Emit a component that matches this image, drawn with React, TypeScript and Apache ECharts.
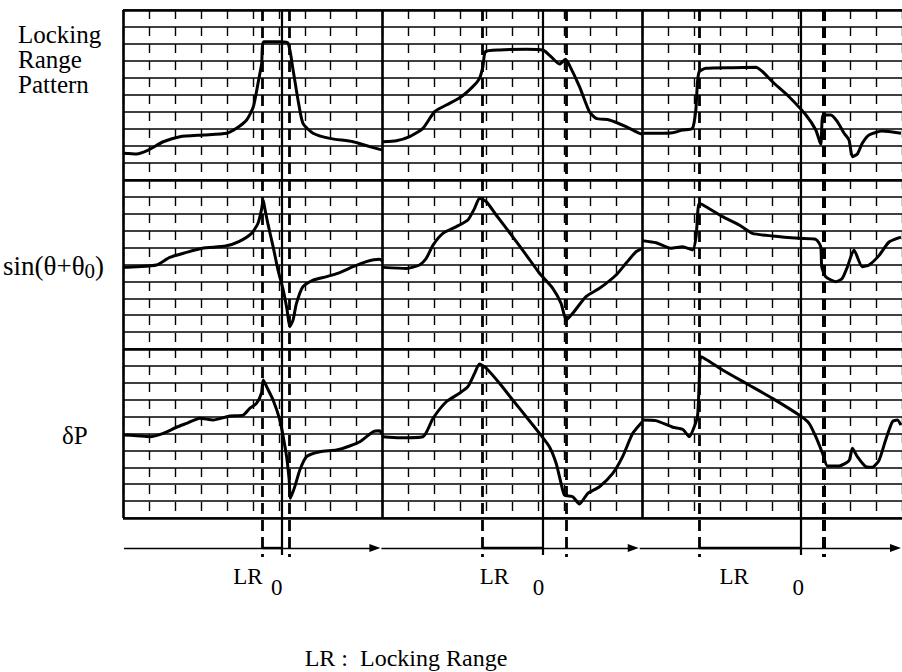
import React, { useEffect, useRef } from 'react';
import * as echarts from 'echarts';

// ---- data: [sweep position (grid columns), level (grid rows)] ----
const lockSec1 = [[0.01,1.57],[0.52,1.53],[0.97,1.76],[1.55,2.25],[2.19,2.55],[3.09,2.65],[3.99,2.75],[4.37,3.04],[4.76,3.53],[5.02,4.31],[5.2,5.69],[5.34,6.86],[5.42,8.13],[6.04,8.13],[6.36,8.04],[6.55,6.47],[6.74,4.71],[6.93,3.33],[7.32,2.75],[7.96,2.45],[8.86,2.25],[9.5,1.96],[10.0,1.76]];
const lockSec2 = [[10.01,2.25],[10.53,2.31],[11.04,2.55],[11.55,3.04],[12.0,4.02],[12.45,4.41],[13.03,4.9],[13.47,5.49],[13.73,5.98],[13.86,6.67],[13.96,7.55],[14.5,7.65],[15.53,7.69],[16.17,7.65],[16.42,7.35],[16.81,6.82],[17.04,7.1],[17.19,6.76],[17.58,5.49],[17.96,4.02],[18.22,3.63],[18.73,3.53],[19.37,3.14],[19.88,2.75],[20.0,2.7]];
const lockSec3 = [[20.04,2.75],[20.65,2.75],[21.16,2.78],[21.55,2.94],[21.93,3.04],[22.06,4.12],[22.12,5.69],[22.19,6.37],[22.45,6.57],[23.47,6.61],[24.37,6.63],[24.63,6.37],[25.01,5.78],[25.65,4.9],[26.3,3.82],[26.68,2.94],[26.87,2.1],[26.96,3.82],[27.26,3.82],[27.51,3.43],[27.77,2.75],[27.96,2.35],[28.09,1.37],[28.28,1.53],[28.47,2.16],[28.73,2.65],[29.24,2.88],[29.96,2.75]];

const sinSec1 = [[0.01,4.83],[0.52,4.87],[1.29,4.97],[1.8,5.42],[2.41,5.7],[3.05,5.96],[3.95,6.09],[4.46,6.35],[4.95,6.84],[5.2,7.44],[5.33,8.22],[5.4,8.82],[5.46,8.32],[5.59,7.34],[5.78,6.06],[5.97,4.67],[6.17,3.49],[6.32,2.31],[6.42,1.32],[6.55,1.72],[6.68,2.7],[6.93,3.69],[7.32,4.08],[7.84,4.28],[8.35,4.52],[8.86,4.87],[9.37,5.17],[9.88,5.31],[10.0,5.2]];
const sinSec2 = [[10.01,4.83],[10.91,4.77],[11.42,4.97],[11.68,5.37],[11.94,6.15],[12.32,6.84],[12.84,7.24],[13.28,7.63],[13.54,8.32],[13.73,8.92],[13.99,8.72],[14.37,7.93],[15.01,6.64],[15.53,5.56],[16.04,4.48],[16.55,3.59],[16.87,2.7],[17.07,1.72],[17.32,2.11],[17.83,3.1],[18.35,3.59],[18.99,4.38],[19.37,5.07],[19.76,5.76],[20.0,5.96]];
const sinSec3 = [[20.01,6.41],[20.53,6.29],[21.1,5.96],[21.55,6.05],[21.94,5.86],[22.07,6.65],[22.19,8.62],[22.45,8.42],[23.09,7.83],[23.73,7.34],[24.24,6.84],[25.01,6.69],[26.04,6.55],[26.68,6.49],[26.87,6.06],[26.91,4.87],[27.06,4.28],[27.45,3.98],[27.7,4.18],[27.9,4.87],[28.15,5.86],[28.47,4.87],[28.73,4.97],[29.12,5.54],[29.5,6.33],[29.96,6.62]];

const dpSec1 = [[0.01,4.91],[0.52,4.87],[1.04,4.81],[1.55,5.01],[2.06,5.37],[2.45,5.6],[2.96,5.9],[3.47,5.8],[4.12,6.04],[4.63,6.09],[4.88,6.49],[5.14,6.78],[5.33,7.38],[5.4,8.17],[5.53,7.77],[5.78,6.98],[6.04,5.8],[6.17,4.81],[6.3,3.63],[6.4,2.25],[6.45,1.17],[6.62,1.87],[6.81,2.84],[7.07,3.63],[7.58,3.92],[8.22,4.02],[8.73,4.26],[9.12,4.51],[9.63,5.1],[9.88,5.16],[10.0,4.91]];
const dpSec2 = [[10.01,4.81],[10.65,4.75],[11.55,4.81],[11.94,5.9],[12.45,6.88],[12.96,7.38],[13.28,7.77],[13.54,8.56],[13.73,9.11],[13.99,8.86],[14.5,7.97],[15.01,6.98],[15.53,5.99],[16.04,5.01],[16.42,4.22],[16.68,3.24],[16.87,2.05],[17.0,1.36],[17.32,1.26],[17.58,0.83],[17.9,1.46],[18.35,1.85],[18.86,2.64],[19.24,3.63],[19.63,5.01],[20.0,5.7]];
const dpSec3 = [[20.01,5.8],[20.53,5.76],[21.17,5.37],[21.55,5.25],[21.81,4.81],[22.0,5.4],[22.13,6.09],[22.19,7.97],[22.26,9.54],[23.09,8.76],[23.99,7.97],[25.01,7.08],[26.04,6.09],[26.42,5.6],[26.68,4.81],[26.94,3.83],[27.13,3.08],[27.58,3.08],[27.96,3.39],[28.09,4.12],[28.28,3.63],[28.6,3.04],[28.86,3.0],[29.12,3.43],[29.37,4.62],[29.63,5.7],[29.82,5.8],[29.96,5.5]];

// ---- reference positions on the sweep axis (grid columns) ----
const sectionCols = [0, 10, 20];
const zeroCols = [6.1, 16.15, 26.1];
const lrCols = [5.38, 13.85, 22.2];
const edgeCols = [6.42, 17.08, 27.0];
const axisSegments = [[0.04, 9.7], [9.95, 19.65], [19.9, 29.75]];
const lrLabelCols = [4.81, 14.3, 23.54];
const zeroLabelCols = [5.92, 16.0, 26.0];

const panelLabels = ['Locking\nRange\nPattern', 'sin(θ+θ{s|0})', 'δP'];
const captionText = 'LR :  Locking Range';

const FONT = "'Times New Roman', 'Liberation Serif', Times, serif";

export default function App() {
  const ref = useRef<HTMLDivElement>(null);
  useEffect(() => {
    if (!ref.current) return;
    const chart = echarts.init(ref.current, undefined, { renderer: 'svg' });

    const panels = [
      { top: 10, height: 170 },
      { top: 180, height: 169 },
      { top: 349, height: 169 },
    ];
    const grids: any[] = panels.map((p) => ({ left: 123, width: 780, top: p.top, height: p.height }));
    grids.push({ left: 123, width: 780, top: 10, height: 660 });

    const xAxes: any[] = grids.map((_, i) => ({
      type: 'value', gridIndex: i, min: 0, max: 30, interval: 1,
      axisLabel: { show: false }, axisTick: { show: false }, axisLine: { show: false },
      splitLine: i < 3 ? { show: true, lineStyle: { color: '#000', width: 1.4, type: [9, 8] } } : { show: false },
    }));
    const yAxes: any[] = grids.map((_, i) => i < 3 ? ({
      type: 'value', gridIndex: i, min: 0, max: 10, interval: 1,
      axisLabel: { show: false }, axisTick: { show: false }, axisLine: { show: false },
      splitLine: { show: true, lineStyle: { color: '#000', width: 1.7 } },
    }) : ({
      type: 'value', gridIndex: i, min: 0, max: 660, inverse: true,
      axisLabel: { show: false }, axisTick: { show: false }, axisLine: { show: false },
      splitLine: { show: false },
    }));

    const traces = [
      [lockSec1, lockSec2, lockSec3],
      [sinSec1, sinSec2, sinSec3],
      [dpSec1, dpSec2, dpSec3],
    ];
    const series: any[] = [];
    traces.forEach((secs, p) => {
      secs.forEach((d) => {
        series.push({
          type: 'line', xAxisIndex: p, yAxisIndex: p, data: d, showSymbol: false,
          smooth: 0.2, lineStyle: { color: '#000', width: 3 }, silent: true,
        });
      });
    });

    // overlay y offsets (px from top of box)
    const boxBottom = 508;
    const sepYs = [0, 170, 339, boxBottom];
    const axisY = 538;
    const lineEnd = 547;
    const lrLabelY = 566;
    const zeroLabelY = 577;

    const ml: any[] = [];
    const seg = (a: number[], b: number[], style: any, endSymbol?: string) => {
      ml.push([
        { coord: a, lineStyle: style, symbol: 'none' },
        { coord: b, lineStyle: style, symbol: endSymbol || 'none', symbolSize: endSymbol ? [8, 11] : 0 },
      ]);
    };
    sepYs.forEach((y) => seg([0, y], [30, y], { color: '#000', width: 2.6, type: 'solid' }));
    sectionCols.forEach((c) => seg([c, 0], [c, boxBottom], { color: '#000', width: 2.6, type: 'solid' }));
    zeroCols.forEach((c) => seg([c, 0], [c, lineEnd - 2], { color: '#000', width: 2.2, type: 'solid' }));
    lrCols.forEach((c) => seg([c, 0], [c, lineEnd], { color: '#000', width: 2.8, type: [11, 6] }));
    edgeCols.forEach((c, i) => seg([c, 0], [c, lineEnd], { color: '#000', width: i === 2 ? 4 : 2.8, type: [11, 6] }));
    axisSegments.forEach((s) => seg([s[0], axisY], [s[1], axisY], { color: '#000', width: 1.4, type: 'solid' }, 'triangle'));
    lrCols.forEach((c, i) => seg([c, axisY], [zeroCols[i], axisY], { color: '#000', width: 2.4, type: 'solid' }));

    const mp: any[] = [];
    lrLabelCols.forEach((c) => mp.push({ name: 'LR', coord: [c, lrLabelY] }));
    zeroLabelCols.forEach((c) => mp.push({ name: '0', coord: [c, zeroLabelY] }));

    series.push({
      type: 'line', xAxisIndex: 3, yAxisIndex: 3, data: [], silent: true,
      markLine: { silent: true, symbol: 'none', label: { show: false }, data: ml, animation: false },
      markPoint: {
        silent: true, symbol: 'circle', symbolSize: 0, data: mp, animation: false,
        label: { show: true, position: 'inside', formatter: '{b}', color: '#000', fontFamily: FONT, fontSize: 23 },
      },
    });

    chart.setOption({
      animation: false,
      backgroundColor: '#fff',
      grid: grids,
      xAxis: xAxes,
      yAxis: yAxes,
      series,
      graphic: [
        { type: 'text', left: 18, top: 22, style: { text: panelLabels[0], fontFamily: FONT, fontSize: 25, lineHeight: 25, fill: '#000' } },
        { type: 'text', left: 3, top: 252, style: { text: panelLabels[1], fontFamily: FONT, fontSize: 27, fill: '#000',
          rich: { s: { fontFamily: FONT, fontSize: 21, padding: [10, 0, 0, 0], fill: '#000' } } } },
        { type: 'text', left: 62, top: 423, style: { text: panelLabels[2], fontFamily: FONT, fontSize: 25, fill: '#000' } },
        { type: 'text', x: 406, y: 658, style: { text: captionText, fontFamily: FONT, fontSize: 24, fill: '#000', align: 'center', verticalAlign: 'middle' } },
      ],
    });
    return () => chart.dispose();
  }, []);
  return <div ref={ref} style={{ position: 'absolute', left: 0, top: 0, width: 902, height: 672, background: '#fff' }} />;
}
